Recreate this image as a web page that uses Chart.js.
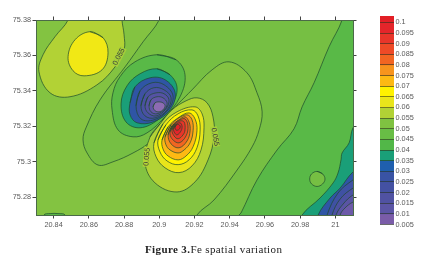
<!DOCTYPE html>
<html>
<head>
<meta charset="utf-8">
<style>
html,body{margin:0;padding:0;background:#fff;width:428px;height:259px;overflow:hidden}
canvas{position:absolute;top:0;filter:blur(0.35px)}
#main{left:0}
#bar{left:380px}
#caption{position:absolute;left:145px;top:243px;font:11px "Liberation Serif",serif;letter-spacing:.38px;color:#222;white-space:nowrap}
</style>
</head>
<body>
<canvas id="main" width="358" height="259"></canvas>
<canvas id="bar" width="48" height="259"></canvas>
<div id="caption"><b>Figure 3.</b>Fe spatial variation</div>
<script src="https://cdn.jsdelivr.net/npm/chart.js@4"></script>
<script>
const xTickValues=[20.84,20.86,20.88,20.9,20.92,20.94,20.96,20.98,21];
const xTickLabels=["20.84","20.86","20.88","20.9","20.92","20.94","20.96","20.98","21"];
const yTickValues=[75.28,75.3,75.32,75.34,75.36,75.38];
const yTickLabels=["75.28","75.3","75.32","75.34","75.36","75.38"];
const scaleLevels=[0.1,0.095,0.09,0.085,0.08,0.075,0.07,0.065,0.06,0.055,0.05,0.045,0.04,0.035,0.03,0.025,0.02,0.015,0.01,0.005];
const scaleLabels=["0.1","0.095","0.09","0.085","0.08","0.075","0.07","0.065","0.06","0.055","0.05","0.045","0.04","0.035","0.03","0.025","0.02","0.015","0.01","0.005"];
const scaleTop=0.103;
const scaleColors=["#E21F26","#E4252A","#E8352A","#EE4A27","#F26522","#F7941D","#FDB913","#FFF200","#E9E51B","#B2D235","#7FC241","#68BD45","#52B748","#1A9F78","#1F5FAE","#3953A4","#4451A2","#5052A2","#5B55A5","#7A5CA8"];

const plotFrame=[[20.82,75.39],[21.02,75.39],[21.02,75.26],[20.82,75.26]];
const upperBand=[[20.8482,75.386],[20.8482,75.38],[20.8408,75.3706],[20.834,75.3604],[20.8317,75.3508],[20.838,75.3389],[20.8493,75.3367],[20.8646,75.3434],[20.8749,75.3536],[20.88,75.3632],[20.88,75.3717],[20.8788,75.38],[20.8788,75.386]];
const upperCore=[[20.8607,75.3734],[20.8681,75.37],[20.8709,75.3615],[20.8675,75.3519],[20.8573,75.3485],[20.851,75.3514],[20.8482,75.3593],[20.8522,75.3689]];
const lowerRegion=[[20.8999,75.386],[20.8999,75.38],[20.8908,75.3677],[20.8806,75.3536],[20.8664,75.335],[20.8584,75.3192],[20.8567,75.3124],[20.859,75.305],[20.8652,75.2982],[20.8737,75.3],[20.8851,75.305],[20.8948,75.3112],[20.8982,75.3164],[20.9033,75.3254],[20.9107,75.3327],[20.9186,75.3406],[20.93,75.3519],[20.9396,75.3564],[20.9498,75.3502],[20.9555,75.3389],[20.9584,75.3282],[20.9567,75.318],[20.9527,75.3084],[20.9442,75.2954],[20.9311,75.2785],[20.9214,75.27],[20.9214,75.2644],[21.017,75.2644],[21.017,75.386]];
const rightZone=[[21.0038,75.386],[21.0038,75.38],[20.9964,75.3649],[20.9879,75.3446],[20.9811,75.331],[20.9765,75.3186],[20.9669,75.3067],[20.9555,75.2898],[20.9464,75.2711],[20.9453,75.27],[20.9453,75.2644],[21.017,75.2644],[21.017,75.386]];
const smallBump=[[20.8345,75.2644],[20.8345,75.27],[20.838,75.2708],[20.8425,75.2708],[20.8465,75.27],[20.8465,75.2644]];
const smallCircle=[[20.9896,75.2946],[20.9927,75.2932],[20.9941,75.2903],[20.9927,75.2875],[20.9896,75.2861],[20.9865,75.2875],[20.9854,75.2903],[20.9865,75.2932]];
const cornerTeal=[[21.014,75.3225],[21.01,75.3192],[21.0078,75.3107],[21.0038,75.305],[21.0032,75.3011],[21.0015,75.2937],[20.9987,75.2881],[20.9913,75.2796],[20.9811,75.27],[20.9811,75.2644],[21.017,75.2644]];
const cornerBlue=[[21.017,75.2982],[21.01,75.2943],[21.0027,75.2852],[20.997,75.2796],[20.9902,75.27],[20.9902,75.2644],[21.017,75.2644]];
const cornerRing2=[[21.017,75.2937],[21.01,75.2898],[21.0015,75.2824],[20.9953,75.27],[20.9953,75.2644],[21.017,75.2644]];
const cornerRing3=[[21.017,75.2886],[21.01,75.2852],[21.0027,75.279],[20.9981,75.27],[20.9981,75.2644],[21.017,75.2644]];
const cornerRing4=[[21.017,75.2841],[21.01,75.2813],[21.0044,75.2762],[21.0004,75.27],[21.0004,75.2644],[21.017,75.2644]];
const cornerRing5=[[21.017,75.2796],[21.01,75.2773],[21.0055,75.274],[21.0027,75.27],[21.0027,75.2644],[21.017,75.2644]];
const lowLobe=[[20.8987,75.3604],[20.9095,75.3576],[20.9146,75.3491],[20.9118,75.3367],[20.9027,75.3248],[20.893,75.3163],[20.8851,75.3141],[20.8766,75.318],[20.8732,75.3293],[20.8737,75.3389],[20.8777,75.348],[20.8862,75.3564]];
const tealLobe=[[20.8987,75.3525],[20.9061,75.3491],[20.9101,75.3417],[20.9072,75.3321],[20.8993,75.3237],[20.8891,75.3192],[20.8811,75.3225],[20.8783,75.3327],[20.8817,75.3429],[20.8891,75.3497]];
const blueLobe=[[20.8834,75.3333],[20.8862,75.3423],[20.8948,75.3474],[20.9033,75.3463],[20.909,75.3389],[20.9061,75.3293],[20.8965,75.3225],[20.8874,75.322],[20.8834,75.3265]];
const blueRing1=[[20.8868,75.3316],[20.8891,75.3401],[20.8959,75.3446],[20.9027,75.3435],[20.9078,75.3372],[20.905,75.3293],[20.897,75.3237],[20.8896,75.3242]];
const blueRing2=[[20.8896,75.3316],[20.8919,75.3384],[20.897,75.3418],[20.9027,75.3406],[20.9067,75.3361],[20.9044,75.3293],[20.8976,75.3248],[20.8919,75.3259]];
const blueRing3=[[20.8919,75.3316],[20.8936,75.3367],[20.8982,75.3389],[20.9027,75.3384],[20.9055,75.335],[20.9038,75.3299],[20.8982,75.3259],[20.8936,75.3276]];
const blueRing4=[[20.8942,75.3316],[20.8953,75.335],[20.8987,75.3367],[20.9021,75.3361],[20.9044,75.3333],[20.9033,75.3299],[20.8987,75.3271],[20.8953,75.3282]];
const blueRing5=[[20.8965,75.331],[20.8976,75.3333],[20.8999,75.3338],[20.9021,75.3333],[20.9033,75.3316],[20.9021,75.3293],[20.8999,75.3282],[20.8976,75.3288]];
const redOuter=[[20.8948,75.3141],[20.9004,75.3214],[20.9072,75.3293],[20.9152,75.3344],[20.9214,75.3361],[20.9271,75.3333],[20.9305,75.3254],[20.9311,75.3141],[20.9277,75.3011],[20.9203,75.2887],[20.9101,75.283],[20.8976,75.2881],[20.8919,75.2994]];
const redRing1=[[20.897,75.3107],[20.9021,75.3214],[20.9101,75.3282],[20.9203,75.331],[20.9243,75.3271],[20.9254,75.3192],[20.9237,75.3067],[20.9186,75.2977],[20.9112,75.2939],[20.9033,75.2966],[20.8982,75.3028]];
const redRing2=[[20.8993,75.3124],[20.9038,75.3209],[20.9107,75.3271],[20.9186,75.3293],[20.922,75.3259],[20.9232,75.318],[20.9214,75.3079],[20.9169,75.3011],[20.9107,75.2984],[20.9044,75.3005],[20.9004,75.3056]];
const redRing3=[[20.9016,75.3124],[20.905,75.3197],[20.9107,75.3248],[20.9169,75.3276],[20.9203,75.3242],[20.9214,75.3175],[20.9192,75.3085],[20.9152,75.3033],[20.9107,75.3011],[20.905,75.3033],[20.9021,75.3073]];
const redRing4=[[20.9033,75.3141],[20.9067,75.3209],[20.9112,75.3248],[20.9158,75.3265],[20.9186,75.3237],[20.9192,75.3175],[20.9175,75.3107],[20.9141,75.3067],[20.9107,75.305],[20.9061,75.3067],[20.9038,75.3096]];
const redRing5=[[20.905,75.3152],[20.9072,75.3203],[20.9112,75.3237],[20.9146,75.3254],[20.9169,75.3225],[20.9175,75.3175],[20.9158,75.3118],[20.9112,75.3079],[20.9067,75.3101]];
const redRing6=[[20.9061,75.3169],[20.9084,75.3214],[20.9118,75.3237],[20.9146,75.3242],[20.9163,75.3203],[20.9152,75.3146],[20.9112,75.3107],[20.9072,75.313]];
const redRing7=[[20.9072,75.318],[20.909,75.3214],[20.9118,75.3231],[20.9141,75.3225],[20.9146,75.318],[20.9135,75.3152],[20.9107,75.313],[20.9084,75.3146]];
const redRing8=[[20.9081,75.3186],[20.9095,75.3212],[20.9118,75.322],[20.9129,75.3203],[20.9124,75.3175],[20.9101,75.3152],[20.9087,75.3164]];
const redRing9=[[20.909,75.3197],[20.9101,75.3212],[20.9118,75.3203],[20.9115,75.3186],[20.9101,75.3178],[20.9092,75.3183]];
const contourText=["0.055","0.055","0.055"];
const contourTextAt=[[20.8771,75.3593],[20.893,75.3028],[20.9317,75.3141]];
const contourTextAngle=[-62,-85,80];
const contourTextBack=["#A4CE3A","#B2D235","#A4CE3A"];

const axisColor="#4B6A48", textColor="#5a5a5a";
const ring=p=>[...p,p[0],p[1]];
const layers=[
 [plotFrame,"#83C341",false],
 [upperBand,"#B2D235",true],[ring(upperCore),"#F1E815",true],
 [smallBump,"#59B947",true],
 [lowerRegion,"#76BF43",true],
 [rightZone,"#59B947",true],
 [ring(smallCircle),"#76BF43",true],
 [cornerTeal,"#1A9F78",true],[cornerBlue,"#2F55A5",true],[cornerRing2,"#3F51A3",true],[cornerRing3,"#4C51A2",true],[cornerRing4,"#5A54A4",true],[cornerRing5,"#6C5AA8",true],
 [ring(lowLobe),"#59B947",true],[ring(tealLobe),"#1A9F78",true],[ring(blueLobe),"#2F55A5",true],
 [ring(blueRing1),"#3F51A3",true],[ring(blueRing2),"#4A51A2",true],[ring(blueRing3),"#5552A3",true],[ring(blueRing4),"#6356A6",true],[ring(blueRing5),"#8D6BB2",true],
 [ring(redOuter),"#B2D235",true],[ring(redRing1),"#E9E51B",true],[ring(redRing2),"#FFF200",true],[ring(redRing3),"#FDB913",true],[ring(redRing4),"#F7941D",true],[ring(redRing5),"#F26522",true],[ring(redRing6),"#EE4A27",true],[ring(redRing7),"#E8352A",true],[ring(redRing8),"#E4252A",true],[ring(redRing9),"#E21F26",true]
];
const datasets=layers.map(([pts,color,line],i)=>({
 data:pts.map(([x,y])=>({x,y})),
 showLine:true,fill:"shape",backgroundColor:color,
 borderColor:line?"#1d4a2c":"transparent",borderWidth:line?0.7:0,
 tension:0.38,pointRadius:0,pointHoverRadius:0,order:-i,capBezierPoints:false
}));

const labelPlugin={id:"contourLabels",afterDatasetsDraw(c){
 const g=c.ctx;
 contourText.forEach((t,i)=>{
  const px=c.scales.x.getPixelForValue(contourTextAt[i][0]);
  const py=c.scales.y.getPixelForValue(contourTextAt[i][1]);
  g.save();g.translate(px,py);g.rotate(contourTextAngle[i]*Math.PI/180);
  g.fillStyle=contourTextBack[i];g.fillRect(-10,-3.5,20,7);
  g.fillStyle="#3a3a3a";g.font='7.3px "Liberation Sans"';g.textAlign="center";g.textBaseline="middle";
  g.fillText(t,0,0);g.restore();
 });
}};
const base=(pos,fit)=>({position:pos,afterFit:fit,border:{color:axisColor,width:1,z:1},
 grid:{drawOnChartArea:false,tickLength:3.5,color:"#444",tickWidth:1}});
Chart.defaults.animation=false;
new Chart(document.getElementById("main"),{
 type:"scatter",
 data:{datasets},
 plugins:[labelPlugin],
 options:{responsive:false,animation:false,events:[],
  layout:{padding:0},
  plugins:{legend:{display:false},tooltip:{enabled:false},title:{display:false}},
  scales:{
   x:{...base("bottom",s=>{s.height=44}),type:"linear",min:20.83,max:21.01,
    afterBuildTicks:s=>{s.ticks=xTickValues.map(value=>({value}))},
    ticks:{autoSkip:false,maxRotation:0,padding:2,color:textColor,font:{family:"Liberation Sans",size:7.3},callback:(v,i)=>xTickLabels[i]}},
   y:{...base("left",s=>{s.width=36}),type:"linear",min:75.27,max:75.38,
    afterBuildTicks:s=>{s.ticks=yTickValues.map(value=>({value}))},
    ticks:{autoSkip:false,padding:1.5,color:textColor,font:{family:"Liberation Sans",size:7.3},callback:(v,i)=>yTickLabels[i]}},
   xTop:{...base("top",s=>{s.height=20}),type:"linear",axis:"x",min:20.83,max:21.01,
    afterBuildTicks:s=>{s.ticks=xTickValues.map(value=>({value}))},
    ticks:{display:false}},
   yRight:{...base("right",s=>{s.width=5}),type:"linear",axis:"y",min:75.27,max:75.38,
    afterBuildTicks:s=>{s.ticks=yTickValues.map(value=>({value}))},
    ticks:{display:false}}
  }
 }
});

const bounds=[scaleTop,...scaleLevels];
new Chart(document.getElementById("bar"),{
 type:"bar",
 data:{labels:[""],datasets:scaleColors.map((c,i)=>({
  data:[[bounds[i+1],bounds[i]]],backgroundColor:c,borderWidth:0,barPercentage:1,categoryPercentage:1,grouped:false}))},
 options:{responsive:false,animation:false,events:[],
  layout:{padding:{top:16,bottom:34.5}},
  plugins:{legend:{display:false},tooltip:{enabled:false},title:{display:false}},
  scales:{
   x:{display:false,grid:{display:false}},
   y:{position:"right",type:"linear",min:0.005,max:scaleTop,afterFit:s=>{s.width=34},
    afterBuildTicks:s=>{s.ticks=scaleLevels.map(value=>({value}))},
    border:{display:false},
    grid:{drawTicks:false,color:"rgba(40,50,30,0.75)",lineWidth:0.8,z:1},
    ticks:{autoSkip:false,padding:1.5,color:textColor,font:{family:"Liberation Sans",size:7.3},callback:(v,i)=>scaleLabels[i]}}
  }
 }
});
</script>
</body>
</html>
